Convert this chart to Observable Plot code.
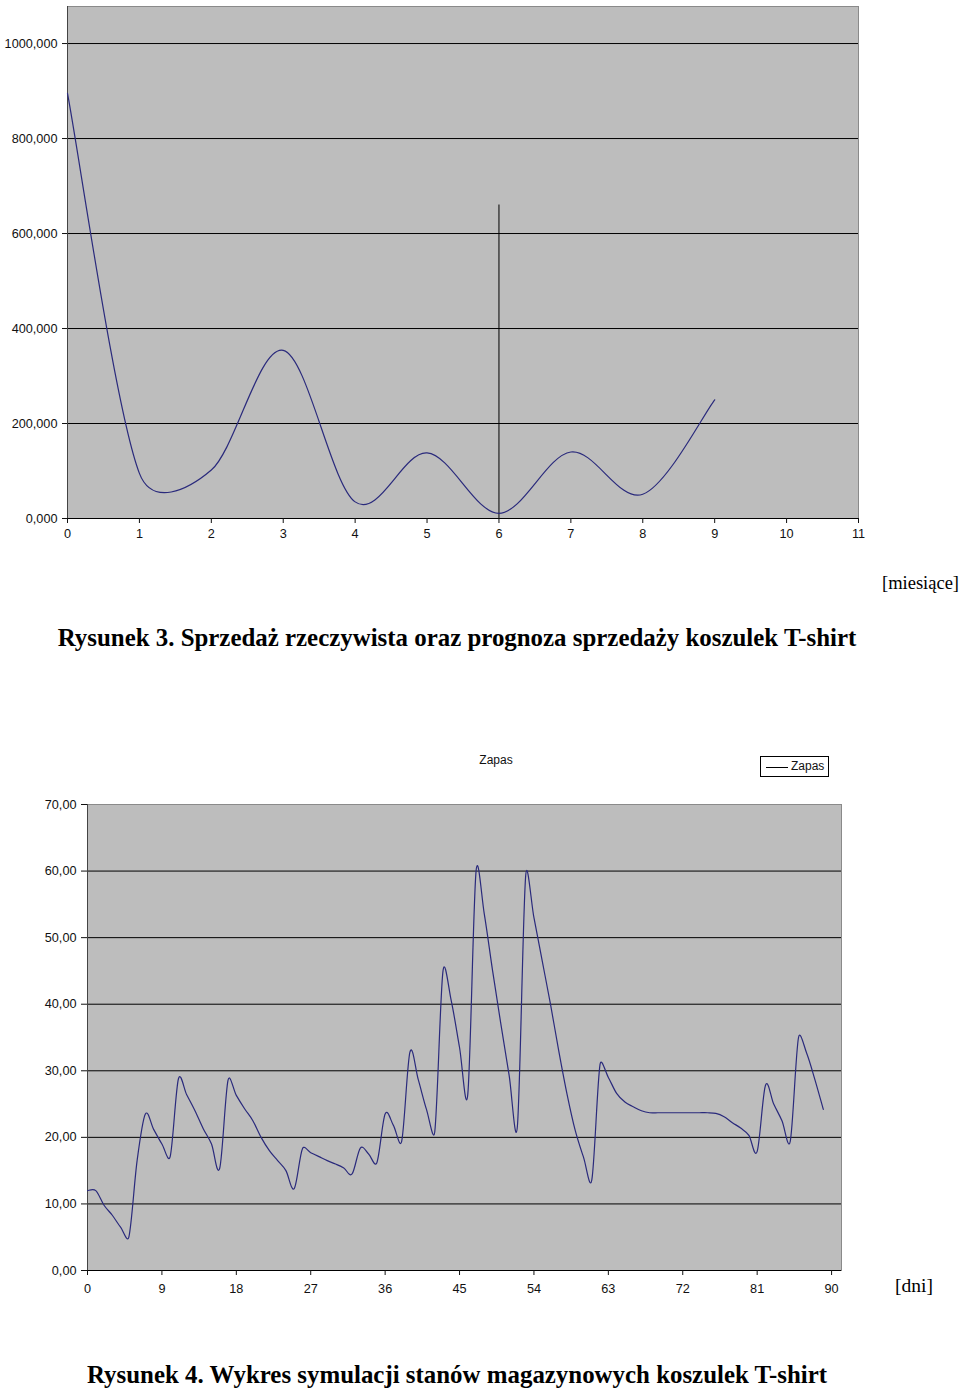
<!DOCTYPE html>
<html><head><meta charset="utf-8">
<script src="https://cdn.jsdelivr.net/npm/d3@7"></script>
<script src="https://cdn.jsdelivr.net/npm/@observablehq/plot@0.6"></script>
<style>
body{margin:0;background:#fff;}
#page{position:relative;width:960px;height:1388px;overflow:hidden;font-family:"Liberation Sans",Arial,sans-serif;color:#111;}
.abs{position:absolute;white-space:nowrap;}
.cap{font-family:"Liberation Serif","Times New Roman",serif;font-weight:bold;font-size:24.9px;color:#000;transform:translate(-50%,-50%);}
.unit{font-family:"Liberation Serif","Times New Roman",serif;color:#000;transform:translateY(-50%);}
#chart1{position:absolute;left:0;top:0;}
#chart2{position:absolute;left:0;top:700px;}
.legend{position:absolute;left:760px;top:756px;width:67px;height:19px;border:1px solid #000;background:#fff;font-size:12px;}
</style></head><body>
<div id="page">
  <div id="chart1"></div>
  <div class="abs unit" style="left:882px;top:583px;font-size:18.5px;">[miesiące]</div>
  <div class="abs cap" style="left:457px;top:638px;">Rysunek 3. Sprzedaż rzeczywista oraz prognoza sprzedaży koszulek T-shirt</div>
  <div class="abs" style="left:496px;top:760px;font-size:12px;transform:translate(-50%,-50%);">Zapas</div>
  <div class="legend"><div style="position:absolute;left:5px;top:10px;width:22px;border-top:1px solid #000;"></div><div style="position:absolute;left:30px;top:2px;">Zapas</div></div>
  <div id="chart2"></div>
  <div class="abs unit" style="left:895px;top:1286px;font-size:19.5px;">[dni]</div>
  <div class="abs cap" style="left:457px;top:1375px;">Rysunek 4. Wykres symulacji stanów magazynowych koszulek T-shirt</div>
</div>
<script>
// ---- Chart 1: monthly sales ----
const months = [0, 1, 2, 3, 4, 5, 6, 7, 8, 9];
const sales = [895, 95, 102, 354, 35, 138, 11, 140, 51, 250];
const markerMonth = [6];
const markerTop = [660];
const monthTicks = [0, 1, 2, 3, 4, 5, 6, 7, 8, 9, 10, 11];
const salesTicks = [0, 200, 400, 600, 800, 1000];
const salesTickLabels = ["0,000", "200,000", "400,000", "600,000", "800,000", "1000,000"];

// ---- Chart 2: daily stock ----
const stock = [12.0, 12.0, 9.8, 8.3, 6.5, 5.0, 16.5, 23.5, 21.2, 19.0,
  17.1, 28.8, 26.4, 24.0, 21.3, 19.0, 15.4, 28.6, 26.3, 24.3,
  22.5, 20.0, 18.0, 16.5, 15.0, 12.3, 18.3, 17.7, 17.1, 16.5,
  16.0, 15.4, 14.5, 18.4, 17.5, 16.2, 23.5, 21.8, 19.4, 32.8,
  28.7, 24.2, 20.8, 45.0, 40.5, 33.5, 26.5, 60.0, 53.5, 45.0,
  37.0, 29.3, 21.7, 59.3, 53.0, 46.5, 40.0, 33.0, 26.5, 21.0,
  17.0, 13.6, 31.0, 29.0, 26.6, 25.3, 24.6, 24.0, 23.7, 23.7,
  23.7, 23.7, 23.7, 23.7, 23.7, 23.7, 23.6, 23.1, 22.2, 21.4,
  20.3, 17.9, 27.8, 25.0, 22.5, 19.4, 35.0, 32.6, 28.6, 24.2];
const dayTicks = [0, 9, 18, 27, 36, 45, 54, 63, 72, 81, 90];
const stockTicks = [0, 10, 20, 30, 40, 50, 60, 70];
const stockTickLabels = ["0,00", "10,00", "20,00", "30,00", "40,00", "50,00", "60,00", "70,00"];

const salesData = months.map((m, i) => ({m, v: sales[i]}));
const stockData = stock.map((v, i) => ({d: i, v}));
const salesLabel = new Map(salesTicks.map((t, i) => [t, salesTickLabels[i]]));
const stockLabel = new Map(stockTicks.map((t, i) => [t, stockTickLabels[i]]));

// Spreadsheet-style smoothed line: Bezier segments with Catmull-Rom (1/6) control
// points, each control arm limited to half of its segment length (screen space).
function smoothCurve(context) {
  let pts = [];
  return {
    areaStart() {}, areaEnd() {},
    lineStart() { pts = []; },
    point(x, y) { pts.push([+x, +y]); },
    lineEnd() {
      const n = pts.length;
      if (!n) return;
      context.moveTo(pts[0][0], pts[0][1]);
      for (let i = 0; i < n - 1; i++) {
        const p0 = pts[Math.max(i - 1, 0)], p1 = pts[i], p2 = pts[i + 1], p3 = pts[Math.min(i + 2, n - 1)];
        const half = Math.hypot(p2[0] - p1[0], p2[1] - p1[1]) / 2;
        let ax = (p2[0] - p0[0]) / 6, ay = (p2[1] - p0[1]) / 6;
        let la = Math.hypot(ax, ay);
        if (la > half) { const s = half / la; ax *= s; ay *= s; }
        let bx = (p3[0] - p1[0]) / 6, by = (p3[1] - p1[1]) / 6;
        let lb = Math.hypot(bx, by);
        if (lb > half) { const s = half / lb; bx *= s; by *= s; }
        context.bezierCurveTo(p1[0] + ax, p1[1] + ay, p2[0] - bx, p2[1] - by, p2[0], p2[1]);
      }
    }
  };
}

const font = {fontFamily: "Liberation Sans, Arial, sans-serif", fontSize: "12.7px", color: "#111", background: "transparent"};
const plotBg = "#bdbdbd";
const lineColor = "#2a2a7c";

const c1 = Plot.plot({
  width: 960, height: 560,
  marginLeft: 67, marginRight: 102, marginTop: 6, marginBottom: 42,
  style: font,
  x: {domain: [0, 11]},
  y: {domain: [0, 1078]},
  marks: [
    Plot.frame({fill: plotBg, stroke: "#8a8a8a"}),
    Plot.ruleY(salesTicks.filter(d => d > 0), {stroke: "#000"}),
    Plot.ruleX([0], {stroke: "#444"}),
    Plot.ruleY([0], {stroke: "#000"}),
    Plot.ruleX(markerMonth, {x: d => d, y1: 0, y2: markerTop[0], stroke: "#000"}),
    Plot.line(salesData, {x: "m", y: "v", curve: smoothCurve, stroke: lineColor, strokeWidth: 1.2}),
    Plot.axisY({ticks: salesTicks, tickFormat: d => salesLabel.get(d), tickSize: 5, tickPadding: 5, label: null}),
    Plot.axisX({ticks: monthTicks, tickFormat: d => String(d), tickSize: 5, tickPadding: 5, label: null})
  ]
});
document.getElementById("chart1").appendChild(c1);

const c2 = Plot.plot({
  width: 960, height: 620,
  marginLeft: 87, marginRight: 119, marginTop: 104, marginBottom: 50,
  style: font,
  x: {domain: [0, 91.2]},
  y: {domain: [0, 70]},
  marks: [
    Plot.frame({fill: plotBg, stroke: "#8a8a8a"}),
    Plot.ruleY(stockTicks.filter(d => d > 0 && d < 70), {stroke: "#000"}),
    Plot.ruleX([0], {stroke: "#444"}),
    Plot.ruleY([0], {stroke: "#000"}),
    Plot.line(stockData, {x: "d", y: "v", curve: smoothCurve, stroke: lineColor, strokeWidth: 1.2}),
    Plot.axisY({ticks: stockTicks, tickFormat: d => stockLabel.get(d), tickSize: 6, tickPadding: 5, label: null}),
    Plot.axisX({ticks: dayTicks, tickFormat: d => String(d), tickSize: 5, tickPadding: 8, label: null})
  ]
});
document.getElementById("chart2").appendChild(c2);
</script>
</body></html>
